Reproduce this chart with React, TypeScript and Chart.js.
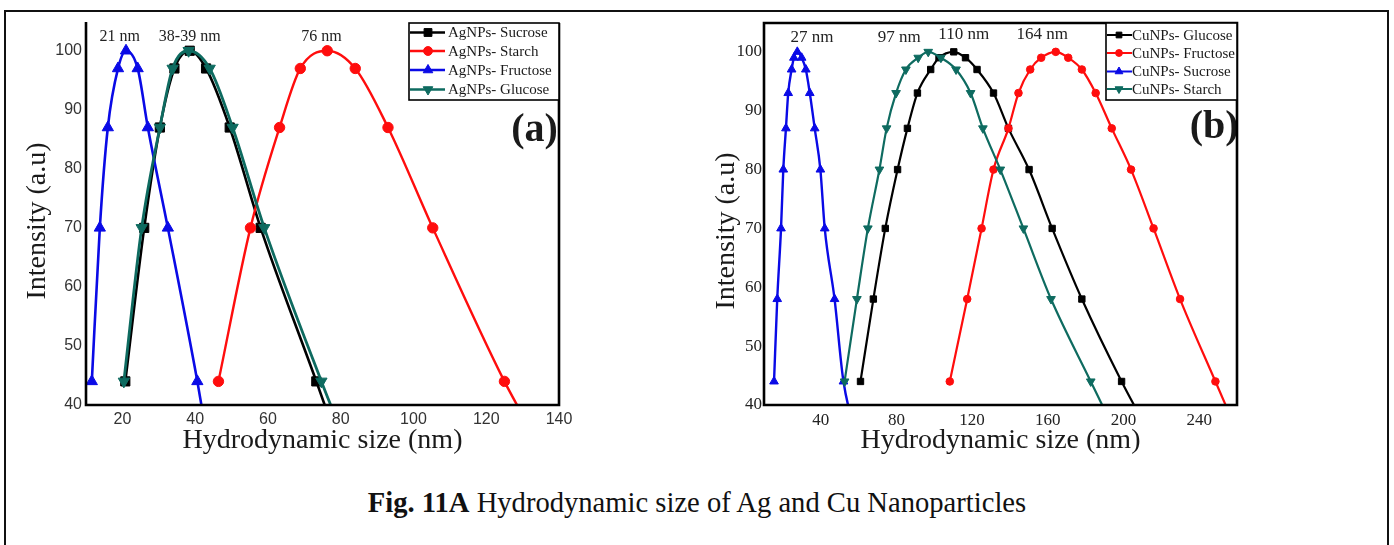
import React, { useEffect, useRef } from 'react';
import { Chart, registerables } from 'chart.js';

Chart.register(...registerables);

// ---------- Panel (a): AgNPs ----------
const agSucroseX = [20.8, 26.0, 30.3, 34.3, 38.5, 43.0, 49.5, 58.0, 73.3, 78.5];
const agSucroseY = [44, 70, 87, 97, 100, 97, 87, 70, 44, 35];
const agStarchX = [46.4, 55.2, 63.2, 68.9, 76.3, 84.0, 93.0, 105.3, 125.0, 133.0];
const agStarchY = [44, 70, 87, 97, 100, 97, 87, 70, 44, 35];
const agFructoseX = [11.6, 13.8, 16.0, 18.8, 21.0, 24.2, 27.0, 32.5, 40.6, 44.5];
const agFructoseY = [44, 70, 87, 97, 100, 97, 87, 70, 44, 30];
const agGlucoseX = [20.4, 25.3, 30.3, 33.8, 38.2, 44.0, 50.3, 59.0, 74.7, 80.5];
const agGlucoseY = [44, 70, 87, 97, 100, 97, 87, 70, 44, 35];
const agLabels = ['AgNPs- Sucrose', 'AgNPs- Starch', 'AgNPs- Fructose', 'AgNPs- Glucose'];
const agXTicks = [20, 40, 60, 80, 100, 120, 140];
const agYTicks = [40, 50, 60, 70, 80, 90, 100];
const agPeakText = ['21 nm', '38-39 nm', '76 nm'];
const agPeakX = [19.3, 38.5, 74.7];
const agPeakY = [102.4, 102.4, 102.4];

// ---------- Panel (b): CuNPs ----------
const cuGlucoseX = [61.0, 67.8, 74.1, 80.6, 85.8, 91.1, 98.1, 102.5, 110.3, 116.5, 122.6, 131.3, 139.2, 150.1, 162.3, 178.0, 199.0, 214.0];
const cuGlucoseY = [44, 58, 70, 80, 87, 93, 97, 99, 100, 99, 97, 93, 87, 80, 70, 58, 44, 35];
const cuFructoseX = [108.2, 117.4, 125.0, 131.3, 139.2, 144.5, 150.7, 156.5, 164.2, 170.8, 178.0, 185.3, 193.8, 204.0, 215.9, 229.9, 248.6, 258.0];
const cuFructoseY = [44, 58, 70, 80, 87, 93, 97, 99, 100, 99, 97, 93, 87, 80, 70, 58, 44, 37];
const cuSucroseX = [15.3, 17.0, 19.0, 20.2, 21.6, 22.8, 24.6, 25.8, 27.6, 29.9, 32.1, 34.2, 36.8, 39.8, 42.1, 47.3, 52.0, 62.0];
const cuSucroseY = [44, 58, 70, 80, 87, 93, 97, 99, 100, 99, 97, 93, 87, 80, 70, 58, 44, 32];
const cuStarchX = [52.6, 59.1, 64.9, 71.0, 74.8, 79.8, 85.0, 91.5, 96.8, 103.5, 111.5, 119.2, 125.7, 134.9, 147.1, 161.7, 182.7, 191.0];
const cuStarchY = [44, 58, 70, 80, 87, 93, 97, 99, 100, 99, 97, 93, 87, 80, 70, 58, 44, 38.5];
const cuLabels = ['CuNPs- Glucose', 'CuNPs- Fructose', 'CuNPs- Sucrose', 'CuNPs- Starch'];
const cuXTicks = [40, 80, 120, 160, 200, 240];
const cuYTicks = [40, 50, 60, 70, 80, 90, 100];
const cuPeakText = ['27 nm', '97 nm', '110 nm', '164 nm'];
const cuPeakX = [35.3, 81.5, 115.6, 157.0];
const cuPeakY = [102.5, 102.5, 102.9, 102.9];

const BLACK = '#000000';
const RED = '#ff0d0d';
const BLUE = '#0a0ae6';
const TEAL = '#0e6b60';
const SERIF = '"Liberation Serif", "Times New Roman", serif';
const SANS = '"Liberation Sans", Arial, sans-serif';

type Marker = { style: string; rot: number; r: number };

function drawMarker(ctx: CanvasRenderingContext2D, m: Marker, x: number, y: number, color: string) {
  ctx.save();
  ctx.fillStyle = color;
  ctx.strokeStyle = color;
  ctx.lineWidth = 1;
  ctx.beginPath();
  if (m.style === 'circle') {
    ctx.arc(x, y, m.r, 0, Math.PI * 2);
  } else if (m.style === 'rect') {
    const s = m.r * Math.SQRT1_2;
    ctx.rect(x - s, y - s, 2 * s, 2 * s);
  } else {
    let a = (m.rot * Math.PI) / 180;
    ctx.moveTo(x + Math.sin(a) * m.r, y - Math.cos(a) * m.r);
    a += (2 * Math.PI) / 3;
    ctx.lineTo(x + Math.sin(a) * m.r, y - Math.cos(a) * m.r);
    a += (2 * Math.PI) / 3;
    ctx.lineTo(x + Math.sin(a) * m.r, y - Math.cos(a) * m.r);
    ctx.closePath();
  }
  ctx.fill();
  ctx.stroke();
  ctx.restore();
}

type ExtraCfg = {
  frameTop: boolean;
  frameWidth: number;
  peakText: string[];
  peakX: number[];
  peakY: number[];
  peakFont: string;
  panelText: string;
  panelX: number;
  panelY: number;
  panelFont: string;
  legendW: number;
  legendH: number;
  legendRows: number[];
  legendLine: [number, number];
  legendMarkerX: number;
  legendTextX: number;
  legendFont: string;
  legendLineWidth: number;
  legendMarkerScale: number;
  yTitleX: number;
  yTitleY: number;
  xTitleY: number;
  titleFont: string;
};

function makeExtras(cfg: ExtraCfg) {
  return {
    id: 'extras',
    afterDraw(chart: any) {
      const ctx: CanvasRenderingContext2D = chart.ctx;
      const ca = chart.chartArea;
      const xs = chart.scales.x;
      const ys = chart.scales.y;
      ctx.save();

      // peak annotations
      ctx.fillStyle = '#222';
      ctx.font = cfg.peakFont;
      ctx.textAlign = 'center';
      ctx.textBaseline = 'middle';
      cfg.peakText.forEach((t, i) => {
        ctx.fillText(t, xs.getPixelForValue(cfg.peakX[i]), ys.getPixelForValue(cfg.peakY[i]));
      });

      // panel label
      ctx.fillStyle = '#1a1a1a';
      ctx.font = cfg.panelFont;
      ctx.fillText(cfg.panelText, xs.getPixelForValue(cfg.panelX), ys.getPixelForValue(cfg.panelY));

      // frame
      ctx.strokeStyle = '#000';
      ctx.lineWidth = cfg.frameWidth;
      ctx.lineJoin = 'miter';
      ctx.beginPath();
      if (cfg.frameTop) {
        ctx.rect(ca.left, ca.top, ca.right - ca.left, ca.bottom - ca.top);
      } else {
        ctx.moveTo(ca.left, ca.top - 1);
        ctx.lineTo(ca.left, ca.bottom);
        ctx.lineTo(ca.right, ca.bottom);
        ctx.lineTo(ca.right, ca.top);
      }
      ctx.stroke();

      // legend
      const lx = ca.right - cfg.legendW;
      const ly = ca.top;
      ctx.fillStyle = '#fff';
      ctx.fillRect(lx, ly, cfg.legendW, cfg.legendH);
      ctx.lineWidth = 1.6;
      ctx.strokeStyle = '#000';
      ctx.strokeRect(lx, ly, cfg.legendW, cfg.legendH);
      chart.data.datasets.forEach((ds: any, i: number) => {
        const ry = ly + cfg.legendRows[i];
        ctx.strokeStyle = ds.borderColor;
        ctx.lineWidth = cfg.legendLineWidth;
        ctx.beginPath();
        ctx.moveTo(lx + cfg.legendLine[0], ry);
        ctx.lineTo(lx + cfg.legendLine[1], ry);
        ctx.stroke();
        drawMarker(
          ctx,
          { style: ds.pointStyle, rot: ds.pointRotation || 0, r: ds.pointRadius * cfg.legendMarkerScale },
          lx + cfg.legendMarkerX,
          ry,
          ds.borderColor
        );
        ctx.fillStyle = '#1a1a1a';
        ctx.font = cfg.legendFont;
        ctx.textAlign = 'left';
        ctx.textBaseline = 'middle';
        ctx.fillText(ds.label, lx + cfg.legendTextX, ry + 1);
      });

      // axis titles
      ctx.fillStyle = '#1a1a1a';
      ctx.font = cfg.titleFont;
      ctx.textAlign = 'center';
      ctx.textBaseline = 'alphabetic';
      ctx.fillText('Hydrodynamic size (nm)', (ca.left + ca.right) / 2, cfg.xTitleY);
      ctx.save();
      ctx.translate(cfg.yTitleX, cfg.yTitleY);
      ctx.rotate(-Math.PI / 2);
      ctx.textBaseline = 'middle';
      ctx.fillText('Intensity (a.u)', 0, 0);
      ctx.restore();

      ctx.restore();
    },
  };
}

function series(label: string, xs: number[], ys: number[], color: string, style: string, rot: number, r: number, lw: number, order: number) {
  return {
    label,
    data: xs.map((x, i) => ({ x, y: ys[i] })),
    borderColor: color,
    backgroundColor: color,
    pointBackgroundColor: color,
    pointBorderColor: color,
    pointBorderWidth: 1,
    pointStyle: style,
    pointRotation: rot,
    pointRadius: r,
    borderWidth: lw,
    cubicInterpolationMode: 'monotone',
    fill: false,
    order,
  };
}

function scales(xMin: number, xMax: number, yMax: number, xTicks: number[], yTicks: number[], yWidth: number, tickFont: any, tickColor: string, yPad: number) {
  return {
    x: {
      type: 'linear',
      min: xMin,
      max: xMax,
      grid: { display: false, drawTicks: false },
      border: { display: false },
      ticks: { font: tickFont, color: tickColor, padding: 5, autoSkip: false, maxRotation: 0 },
      afterBuildTicks: (s: any) => {
        s.ticks = xTicks.map((v) => ({ value: v }));
      },
      afterFit: (s: any) => {
        s.height = 65;
      },
    },
    y: {
      type: 'linear',
      min: 40,
      max: yMax,
      grid: { display: false, drawTicks: false },
      border: { display: false },
      ticks: { font: tickFont, color: tickColor, padding: yPad, autoSkip: false },
      afterBuildTicks: (s: any) => {
        s.ticks = yTicks.map((v) => ({ value: v }));
      },
      afterFit: (s: any) => {
        s.width = yWidth;
      },
    },
  };
}

export default function App() {
  const refA = useRef<HTMLCanvasElement | null>(null);
  const refB = useRef<HTMLCanvasElement | null>(null);

  useEffect(() => {
    const chartA = new Chart(refA.current as HTMLCanvasElement, {
      type: 'line',
      data: {
        datasets: [
          series(agLabels[0], agSucroseX, agSucroseY, BLACK, 'rect', 0, 6.5, 2.6, 3),
          series(agLabels[1], agStarchX, agStarchY, RED, 'circle', 0, 5.2, 2.4, 2),
          series(agLabels[2], agFructoseX, agFructoseY, BLUE, 'triangle', 0, 6.5, 2.6, 1),
          series(agLabels[3], agGlucoseX, agGlucoseY, TEAL, 'triangle', 180, 6.5, 2.8, 0),
        ] as any,
      },
      options: {
        responsive: false,
        animation: false,
        devicePixelRatio: 1,
        layout: { padding: { left: 0, top: 23, right: 131, bottom: 0 } },
        plugins: { legend: { display: false }, tooltip: { enabled: false } },
        scales: scales(10, 140, 104.7, agXTicks, agYTicks, 86, { family: SANS, size: 16 }, '#333', 4) as any,
      },
      plugins: [
        makeExtras({
          frameTop: false,
          frameWidth: 2.6,
          peakText: agPeakText,
          peakX: agPeakX,
          peakY: agPeakY,
          peakFont: `16px ${SERIF}`,
          panelText: '(a)',
          panelX: 133.3,
          panelY: 86.4,
          panelFont: `bold 40px ${SERIF}`,
          legendW: 150,
          legendH: 77,
          legendRows: [9.5, 28, 47, 66.5],
          legendLine: [1, 36],
          legendMarkerX: 19,
          legendTextX: 39,
          legendFont: `15px ${SERIF}`,
          legendLineWidth: 2.6,
          legendMarkerScale: 0.85,
          yTitleX: 38,
          yTitleY: 221,
          xTitleY: 448,
          titleFont: `28px ${SERIF}`,
        }),
      ],
    } as any);

    const chartB = new Chart(refB.current as HTMLCanvasElement, {
      type: 'line',
      data: {
        datasets: [
          series(cuLabels[0], cuGlucoseX, cuGlucoseY, BLACK, 'rect', 0, 4.5, 2.2, 3),
          series(cuLabels[1], cuFructoseX, cuFructoseY, RED, 'circle', 0, 3.8, 2.2, 2),
          series(cuLabels[2], cuSucroseX, cuSucroseY, BLUE, 'triangle', 0, 5, 2.4, 1),
          series(cuLabels[3], cuStarchX, cuStarchY, TEAL, 'triangle', 180, 5, 2.2, 0),
        ] as any,
      },
      options: {
        responsive: false,
        animation: false,
        devicePixelRatio: 1,
        layout: { padding: { left: 0, top: 23, right: 157, bottom: 0 } },
        plugins: { legend: { display: false }, tooltip: { enabled: false } },
        scales: scales(10, 260, 104.9, cuXTicks, cuYTicks, 74, { family: SERIF, size: 17 }, '#222', 2) as any,
      },
      plugins: [
        makeExtras({
          frameTop: true,
          frameWidth: 2.6,
          peakText: cuPeakText,
          peakX: cuPeakX,
          peakY: cuPeakY,
          peakFont: `17px ${SERIF}`,
          panelText: '(b)',
          panelX: 247.9,
          panelY: 87.1,
          panelFont: `bold 40px ${SERIF}`,
          legendW: 131,
          legendH: 77,
          legendRows: [12, 30, 48.5, 66],
          legendLine: [1, 26],
          legendMarkerX: 13,
          legendTextX: 26,
          legendFont: `15px ${SERIF}`,
          legendLineWidth: 2,
          legendMarkerScale: 0.9,
          yTitleX: 37,
          yTitleY: 231,
          xTitleY: 448,
          titleFont: `28px ${SERIF}`,
        }),
      ],
    } as any);

    return () => {
      chartA.destroy();
      chartB.destroy();
    };
  }, []);

  return (
    <div style={{ position: 'absolute', left: 0, top: 0, width: 1394, height: 545, background: '#fff', overflow: 'hidden' }}>
      <div
        style={{
          position: 'absolute',
          left: 4,
          top: 10,
          width: 1385,
          height: 600,
          boxSizing: 'border-box',
          borderTop: '2px solid #111',
          borderLeft: '2px solid #111',
          borderRight: '2px solid #111',
        }}
      />
      <canvas ref={refA} width={690} height={470} style={{ position: 'absolute', left: 0, top: 0, width: 690, height: 470 }} />
      <canvas ref={refB} width={704} height={470} style={{ position: 'absolute', left: 690, top: 0, width: 704, height: 470 }} />
      <div
        style={{
          position: 'absolute',
          left: 0,
          top: 489,
          width: 1394,
          textAlign: 'center',
          fontFamily: SERIF,
          fontSize: 28.6,
          lineHeight: '28px',
          color: '#111',
          whiteSpace: 'nowrap',
        }}
      >
        <b>Fig. 11A</b> Hydrodynamic size of Ag and Cu Nanoparticles
      </div>
    </div>
  );
}
